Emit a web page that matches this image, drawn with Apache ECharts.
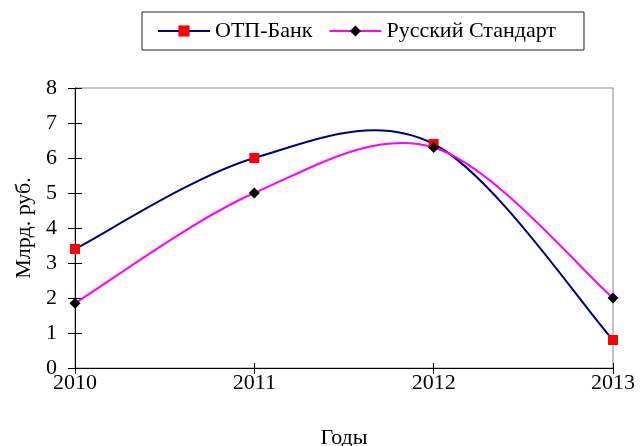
<!DOCTYPE html>
<html><head><meta charset="utf-8">
<script src="https://cdn.jsdelivr.net/npm/echarts@6/dist/echarts.min.js"></script>
<style>html,body{margin:0;padding:0;background:#fff}#c{width:640px;height:446px}</style>
</head><body><div id="c"></div>
<script>
var years = ['2010', '2011', '2012', '2013'];
var otpBank = [3.4, 6.0, 6.4, 0.8];
var russianStandard = [1.85, 5.0, 6.3, 2.0];
var yTicks = [0, 1, 2, 3, 4, 5, 6, 7, 8];

var font = 'Liberation Serif';
var navy = '#000080', magenta = '#FF00FF';

// Excel-style smoothed curve drawn through the axis scales (api.coord)
function curveRenderer(values, color) {
  return function (params, api) {
    if (params.dataIndex !== 0) return null;
    var pts = values.map(function (v, i) { return api.coord([i, v]); });
    var children = [];
    for (var i = 0; i < pts.length - 1; i++) {
      var p0 = pts[i - 1] || pts[i], p1 = pts[i], p2 = pts[i + 1], p3 = pts[i + 2] || pts[i + 1];
      children.push({
        type: 'bezierCurve',
        shape: {
          x1: p1[0], y1: p1[1], x2: p2[0], y2: p2[1],
          cpx1: p1[0] + (p2[0] - p0[0]) / 6, cpy1: p1[1] + (p2[1] - p0[1]) / 6,
          cpx2: p2[0] - (p3[0] - p1[0]) / 6, cpy2: p2[1] - (p3[1] - p1[1]) / 6
        },
        style: {stroke: color, lineWidth: 2, fill: null}
      });
    }
    return {type: 'group', children: children};
  };
}
function pairs(values) { return values.map(function (v, i) { return [i, v]; }); }

var chart = echarts.init(document.getElementById('c'));
chart.setOption({
  animation: false,
  textStyle: {fontFamily: font},
  legend: {
    top: 12, left: 142,
    itemGap: 16, itemWidth: 52, itemHeight: 14,
    borderColor: '#222', borderWidth: 1,
    padding: [8, 28, 8, 15],
    textStyle: {fontFamily: font, fontSize: 22, color: '#000'},
    data: [
      {name: 'ОТП-Банк', lineStyle: {color: navy, width: 2, opacity: 1}},
      {name: 'Русский Стандарт', lineStyle: {color: magenta, width: 2, opacity: 1}}
    ]
  },
  grid: {left: 75, right: 27, top: 88, bottom: 78, show: true, borderColor: '#888', borderWidth: 1,
         containLabel: false, outerBoundsMode: 'none'},
  xAxis: [{
    type: 'category', data: years, boundaryGap: false,
    name: 'Годы', nameLocation: 'middle', nameGap: 59,
    nameTextStyle: {fontFamily: font, fontSize: 22, color: '#000'},
    axisLine: {lineStyle: {color: '#000', width: 1}},
    axisTick: {show: true, length: 6, lineStyle: {color: '#000'}},
    axisLabel: {fontFamily: font, fontSize: 22, color: '#000', margin: 4},
    splitLine: {show: false}
  }, {
    type: 'category', data: years, boundaryGap: false, position: 'bottom',
    axisLine: {show: false},
    axisTick: {show: true, inside: true, length: 5, lineStyle: {color: '#000'}},
    axisLabel: {show: false}, splitLine: {show: false}
  }],
  yAxis: [{
    type: 'value', min: yTicks[0], max: yTicks[yTicks.length - 1], interval: 1,
    name: 'Млрд. руб.', nameLocation: 'middle', nameGap: 39, nameRotate: 90,
    nameTextStyle: {fontFamily: font, fontSize: 22, color: '#000'},
    axisLine: {show: true, lineStyle: {color: '#000', width: 1}},
    axisTick: {show: true, length: 7, lineStyle: {color: '#000'}},
    axisLabel: {fontFamily: font, fontSize: 22, color: '#000', margin: 18},
    splitLine: {show: false}
  }, {
    type: 'value', min: yTicks[0], max: yTicks[yTicks.length - 1], interval: 1, position: 'left',
    axisLine: {show: false},
    axisTick: {show: true, inside: true, length: 7, lineStyle: {color: '#000'}},
    axisLabel: {show: false}, splitLine: {show: false}
  }],
  series: [
    {
      name: 'curve-otp', type: 'custom', data: pairs(otpBank), z: 2, silent: true,
      renderItem: curveRenderer(otpBank, navy)
    },
    {
      name: 'curve-rs', type: 'custom', data: pairs(russianStandard), z: 2, silent: true,
      renderItem: curveRenderer(russianStandard, magenta)
    },
    {
      name: 'ОТП-Банк', type: 'line', data: otpBank,
      lineStyle: {color: navy, width: 2, opacity: 0},
      itemStyle: {color: '#FF0000'},
      symbol: 'rect', symbolSize: 10, z: 3
    },
    {
      name: 'Русский Стандарт', type: 'line', data: russianStandard,
      lineStyle: {color: magenta, width: 2, opacity: 0},
      itemStyle: {color: '#000000'},
      symbol: 'diamond', symbolSize: 11, z: 4
    }
  ]
});
</script></body></html>
